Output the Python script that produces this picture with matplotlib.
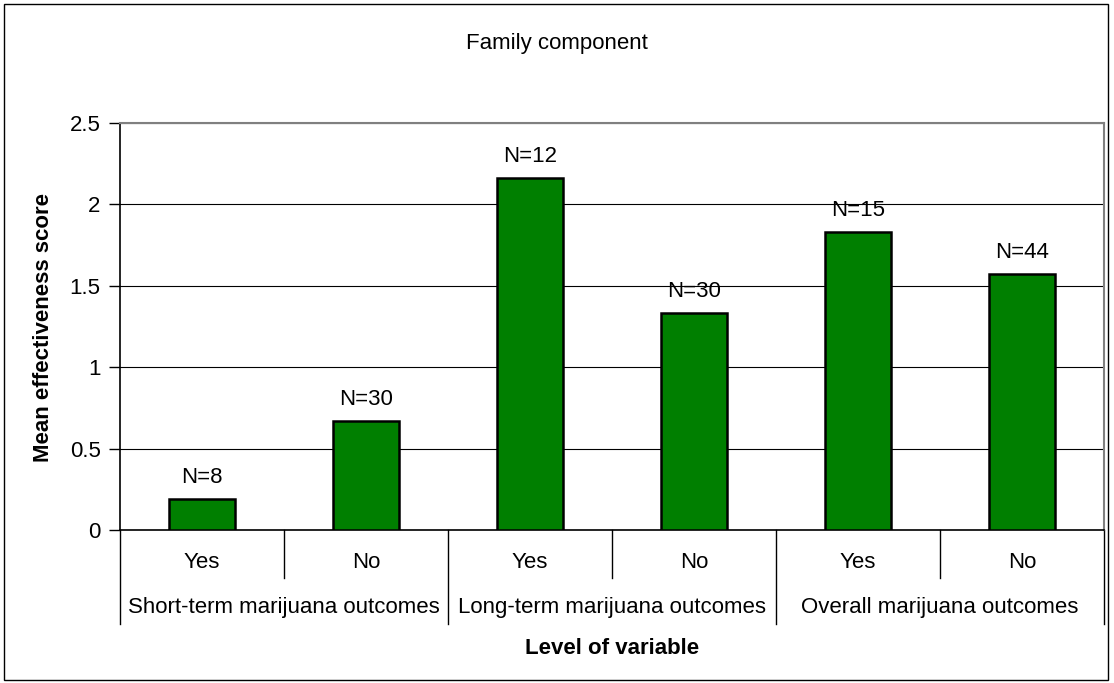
import matplotlib.pyplot as plt
from matplotlib.patches import Rectangle

plt.rcParams['font.family'] = ['Liberation Sans', 'DejaVu Sans']

levels = ['Yes', 'No', 'Yes', 'No', 'Yes', 'No']
groups = ['Short-term marijuana outcomes', 'Long-term marijuana outcomes',
          'Overall marijuana outcomes']
scores = [0.19, 0.67, 2.16, 1.33, 1.83, 1.57]
counts = ['N=8', 'N=30', 'N=12', 'N=30', 'N=15', 'N=44']

FS = 16

fig = plt.figure(figsize=(11.14, 6.83), dpi=100)
fig.patches.append(Rectangle((0.004, 0.004), 0.991, 0.990, transform=fig.transFigure,
                             fill=False, edgecolor='black', linewidth=1))
ax = fig.add_axes([120 / 1114, 1 - 530 / 683, 984 / 1114, 407 / 683])

x = list(range(len(scores)))
ax.bar(x, scores, width=0.4, color='#007F00', edgecolor='black', linewidth=1.8, zorder=3)
for xi, v, c in zip(x, scores, counts):
    ax.text(xi, v + 0.07, c, ha='center', va='bottom', fontsize=FS)

ax.set_xlim(-0.5, len(scores) - 0.5)
ax.set_ylim(0, 2.5)
ax.set_yticks([0, 0.5, 1, 1.5, 2, 2.5])
ax.set_yticklabels(['0', '0.5', '1', '1.5', '2', '2.5'], fontsize=FS)
ax.tick_params(axis='y', length=8, width=1, pad=6)
ax.set_xticks([])
ax.yaxis.grid(True, color='black', linewidth=0.8, zorder=0)

for s in ['top', 'right']:
    ax.spines[s].set_color('#808080')
    ax.spines[s].set_linewidth(1.5)
for s in ['left', 'bottom']:
    ax.spines[s].set_color('black')
    ax.spines[s].set_linewidth(1.2)

# category labels under the axis
tr = ax.get_xaxis_transform()
for xi, lab in zip(x, levels):
    ax.text(xi, -0.08, lab, transform=tr, ha='center', va='center', fontsize=FS)
for gi, g in enumerate(groups):
    ax.text(2 * gi + 0.5, -0.19, g, transform=tr, ha='center', va='center', fontsize=FS)
for b in [0.5, 2.5, 4.5]:
    ax.plot([b, b], [0, -0.118], transform=tr, color='black', lw=1, clip_on=False)
for b in [-0.5, 1.5, 3.5, 5.5]:
    ax.plot([b, b], [0, -0.23], transform=tr, color='black', lw=1, clip_on=False)

fig.text(0.5, 1 - 43 / 683, 'Family component', ha='center', va='center', fontsize=FS)
fig.text(612 / 1114, 1 - 648 / 683, 'Level of variable', ha='center', va='center',
         fontsize=FS, fontweight='bold')
fig.text(44 / 1114, 1 - 328 / 683, 'Mean effectiveness score', ha='center', va='center',
         rotation=90, fontsize=FS, fontweight='bold')

fig.savefig('out.png', dpi=100)
